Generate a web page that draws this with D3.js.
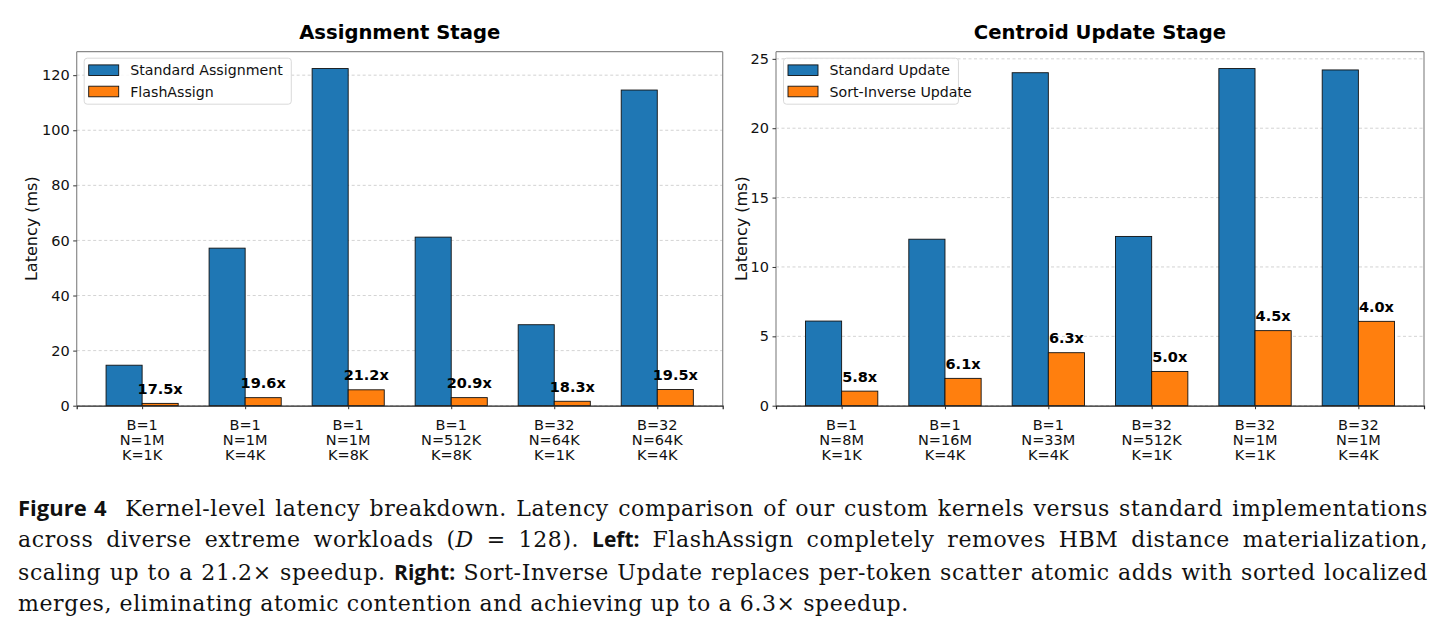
<!DOCTYPE html>
<html>
<head>
<meta charset="utf-8">
<script src="https://cdn.jsdelivr.net/npm/d3@7"></script>
<style>
  html, body { margin: 0; padding: 0; background: #fff; }
  #wrap { position: relative; width: 1448px; height: 637px; overflow: hidden; }
  svg { position: absolute; left: 0; top: 0; }
  #caption { position: absolute; left: 18px; top: 491px; width: 1410px;
    font-family: "DejaVu Serif", serif; font-size: 22px; color: #111; letter-spacing: 0.6px; }
  #caption .ln { height: 32.4px; line-height: 32.4px; text-align: justify; text-align-last: justify; white-space: nowrap; }
  #caption .ln.last { text-align-last: left; }
  #caption b { font-family: "Open Sans"; font-weight: 700; letter-spacing: 0; }
  #caption .fig { font-size: 22px; }
  #caption .sub { font-size: 21px; }
</style>
</head>
<body>
<div id="wrap">
<svg id="chart" width="1448" height="637"></svg>
<div id="caption"></div>
</div>
<script>
// ---------------- DATA ----------------
const assignCategories = [["B=1","N=1M","K=1K"],["B=1","N=1M","K=4K"],["B=1","N=1M","K=8K"],["B=1","N=512K","K=8K"],["B=32","N=64K","K=1K"],["B=32","N=64K","K=4K"]];
const standardAssignment = [14.7, 57.2, 122.4, 61.2, 29.4, 114.6];
const flashAssign = [0.84, 2.92, 5.77, 2.93, 1.61, 5.88];
const assignSpeedups = ["17.5x","19.6x","21.2x","20.9x","18.3x","19.5x"];
const assignTicks = [0, 20, 40, 60, 80, 100, 120];

const updateCategories = [["B=1","N=8M","K=1K"],["B=1","N=16M","K=4K"],["B=1","N=33M","K=4K"],["B=32","N=512K","K=1K"],["B=32","N=1M","K=1K"],["B=32","N=1M","K=4K"]];
const standardUpdate = [6.1, 12.0, 24.0, 12.2, 24.3, 24.2];
const sortInverseUpdate = [1.05, 1.97, 3.82, 2.47, 5.41, 6.08];
const updateSpeedups = ["5.8x","6.1x","6.3x","5.0x","4.5x","4.0x"];
const updateTicks = [0, 5, 10, 15, 20, 25];

const BLUE = "#1f77b4", ORANGE = "#ff7f0e";
const FONT = "DejaVu Sans";

const svg = d3.select("#chart");

function panel(cfg) {
  const {x0, x1, yTop, yBot, title, cats, a, b, labels, ticks, names, ylabX} = cfg;
  const g = svg.append("g");
  const n = cats.length;
  const bw = 0.35;
  const x = d3.scaleLinear().domain([-bw - 0.05 * (n - 1 + 2 * bw), n - 1 + bw + 0.05 * (n - 1 + 2 * bw)]).range([x0, x1]);
  const ymax = d3.max(a.concat(b)) * 1.05;
  const y = d3.scaleLinear().domain([0, ymax]).range([yBot, yTop]);

  // grid
  g.append("g").selectAll("line").data(ticks).join("line")
    .attr("x1", x0).attr("x2", x1)
    .attr("y1", d => y(d)).attr("y2", d => y(d))
    .attr("stroke", "#c8c8c8").attr("stroke-width", 0.8).attr("stroke-dasharray", "3,2.5");

  // bars
  const idx = d3.range(n);
  g.append("g").selectAll("rect").data(idx).join("rect")
    .attr("x", i => x(i - bw)).attr("width", i => x(i) - x(i - bw))
    .attr("y", i => y(a[i])).attr("height", i => y(0) - y(a[i]))
    .attr("fill", BLUE).attr("stroke", "#111").attr("stroke-width", 0.9);
  g.append("g").selectAll("rect").data(idx).join("rect")
    .attr("x", i => x(i)).attr("width", i => x(i + bw) - x(i))
    .attr("y", i => y(b[i])).attr("height", i => y(0) - y(b[i]))
    .attr("fill", ORANGE).attr("stroke", "#111").attr("stroke-width", 0.9);

  // speedup labels
  g.append("g").selectAll("text").data(idx).join("text")
    .attr("x", i => x(i + bw / 2)).attr("y", i => y(b[i]) - 9.5)
    .attr("text-anchor", "middle").attr("font-family", FONT).attr("font-weight", "bold")
    .attr("font-size", 14.5).attr("fill", "#000").text(i => labels[i]);

  // spines
  g.append("line").attr("x1", x0).attr("x2", x1).attr("y1", yTop).attr("y2", yTop).attr("stroke", "#8a8a8a").attr("stroke-width", 1.2);
  g.append("line").attr("x1", x0).attr("x2", x0).attr("y1", yTop).attr("y2", yBot).attr("stroke", "#8a8a8a").attr("stroke-width", 1.2);
  g.append("line").attr("x1", x1).attr("x2", x1).attr("y1", yTop).attr("y2", yBot).attr("stroke", "#8a8a8a").attr("stroke-width", 1.2);

  // y axis
  const ya = d3.axisLeft(y).tickValues(ticks).tickSize(3.5).tickPadding(3.5).tickFormat(d3.format("d"));
  const yg = g.append("g").attr("transform", `translate(${x0},0)`).call(ya);
  yg.select(".domain").remove();
  yg.selectAll(".tick line").attr("stroke", "#333");
  yg.selectAll(".tick text").attr("font-family", FONT).attr("font-size", 14.5).attr("fill", "#111");

  // x axis
  const xa = d3.axisBottom(x).tickValues(idx).tickSize(3.5).tickFormat("");
  const xg = g.append("g").attr("transform", `translate(0,${yBot})`).call(xa);
  xg.select(".domain").attr("stroke", "#222").attr("stroke-width", 1.2);
  xg.selectAll(".tick line").attr("stroke", "#333");
  const lab = g.append("g").selectAll("text").data(idx).join("text")
    .attr("text-anchor", "middle").attr("font-family", FONT).attr("font-size", 14.5).attr("fill", "#111");
  lab.each(function(i) {
    const t = d3.select(this);
    cats[i].forEach((s, k) => {
      t.append("tspan").attr("x", x(i)).attr("y", yBot + 24 + k * 15.3).text(s);
    });
  });

  // y label
  g.append("text").attr("transform", `translate(${ylabX},${(yTop + yBot) / 2}) rotate(-90)`)
    .attr("text-anchor", "middle").attr("dominant-baseline", "central")
    .attr("font-family", FONT).attr("font-size", 16).attr("fill", "#111").text("Latency (ms)");

  // title
  g.append("text").attr("x", (x0 + x1) / 2).attr("y", 38.5).attr("text-anchor", "middle")
    .attr("font-family", FONT).attr("font-weight", "bold").attr("font-size", 19.6).attr("fill", "#000").text(title);

  // legend
  const lx = x0 + 7.5, ly = yTop + 6.5;
  const lg = g.append("g");
  const tmp = lg.append("text").attr("font-family", FONT).attr("font-size", 14.2).text(names[0]);
  const tw = Math.max(tmp.node().getComputedTextLength(), 0);
  tmp.remove();
  lg.append("rect").attr("x", lx).attr("y", ly).attr("width", 53.5 + tw + 1).attr("height", 46)
    .attr("rx", 3).attr("fill", "#fff").attr("fill-opacity", 0.85).attr("stroke", "#d9d9d9").attr("stroke-width", 1);
  [[BLUE, names[0]], [ORANGE, names[1]]].forEach(([c, nm], k) => {
    const cy = ly + 12 + k * 21.3;
    lg.append("rect").attr("x", lx + 4.5).attr("y", cy - 5.3).attr("width", 30).attr("height", 10.6)
      .attr("fill", c).attr("stroke", "#111").attr("stroke-width", 0.9);
    lg.append("text").attr("x", lx + 46).attr("y", cy + 5).attr("font-family", FONT).attr("font-size", 14.2)
      .attr("fill", "#111").text(nm);
  });
}

panel({x0: 76.7, x1: 722.7, yTop: 51.7, yBot: 405.7, title: "Assignment Stage",
  cats: assignCategories, a: standardAssignment, b: flashAssign, labels: assignSpeedups,
  ticks: assignTicks, names: ["Standard Assignment", "FlashAssign"], ylabX: 31});
panel({x0: 776, x1: 1424, yTop: 51.7, yBot: 405.7, title: "Centroid Update Stage",
  cats: updateCategories, a: standardUpdate, b: sortInverseUpdate, labels: updateSpeedups,
  ticks: updateTicks, names: ["Standard Update", "Sort-Inverse Update"], ylabX: 741});

// caption
const captionLines = [
  '<b class="fig">Figure&nbsp;4</b>&nbsp; Kernel-level latency breakdown. Latency comparison of our custom kernels versus standard implementations',
  'across diverse extreme workloads (<i>D</i>&nbsp;=&nbsp;128). <b class="sub">Left:</b> FlashAssign completely removes HBM distance materialization,',
  'scaling up to a 21.2× speedup. <b class="sub">Right:</b> Sort-Inverse Update replaces per-token scatter atomic adds with sorted localized',
  'merges, eliminating atomic contention and achieving up to a 6.3× speedup.'
];
d3.select("#caption").selectAll("div").data(captionLines).join("div")
  .attr("class", (d, i) => i === captionLines.length - 1 ? "ln last" : "ln")
  .html(d => d);
</script>
</body>
</html>
